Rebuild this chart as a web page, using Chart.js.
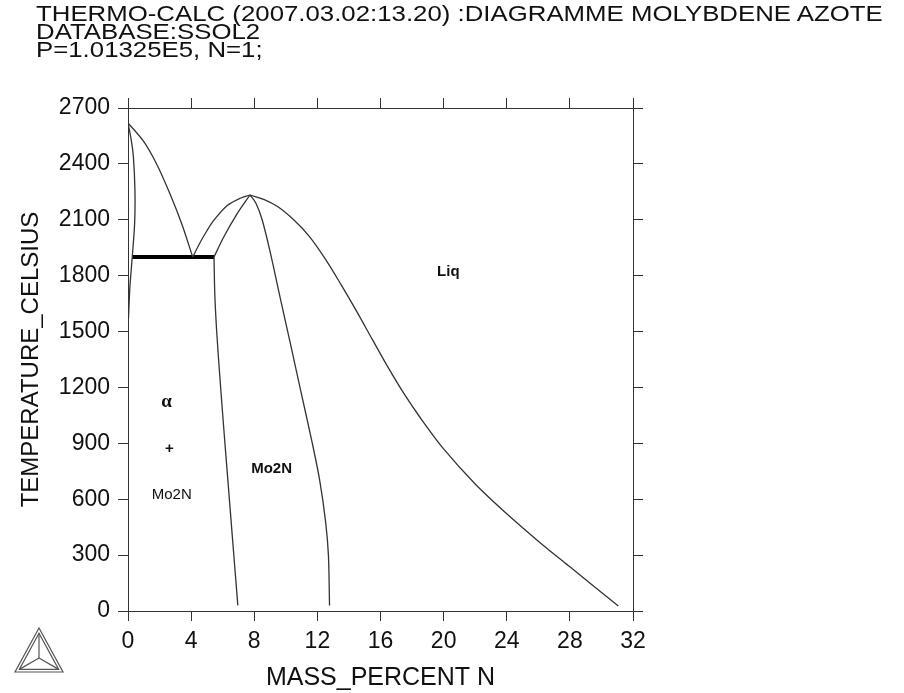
<!DOCTYPE html>
<html>
<head>
<meta charset="utf-8">
<script src="https://cdn.jsdelivr.net/npm/chart.js@4.4.0/dist/chart.umd.min.js"></script>
<style>
html, body { margin: 0; padding: 0; background: #fff; }
#wrap { position: relative; width: 904px; height: 693px; }
#head {
    position: absolute; left: 36px; top: 5px;
    font-family: "Liberation Sans", Arial, sans-serif;
    font-size: 25.8px; line-height: 20.3px; color: #111;
    transform: scaleY(0.86); transform-origin: 0 0; white-space: nowrap;
}
</style>
</head>
<body>
<div id="wrap">
<canvas id="myChart" width="904" height="693"></canvas>
<div id="head">THERMO-CALC (2007.03.02:13.20) :DIAGRAMME MOLYBDENE AZOTE<br>DATABASE:SSOL2<br>P=1.01325E5, N=1;</div>
</div>
<script>
// axis ranges / ticks
var xTicks = [0, 4, 8, 12, 16, 20, 24, 28, 32];
var tTicks = [0, 300, 600, 900, 1200, 1500, 1800, 2100, 2400, 2700];

// phase boundaries (mass % N, temperature C)
var alphaSolvusX = [0, 0.2, 0.34, 0.44, 0.42, 0.27, 0.12, 0.03];
var alphaSolvusT = [2620, 2530, 2440, 2260, 2080, 1900, 1740, 1570];

var liqLeftX = [0, 0.97, 1.82, 2.67, 3.41, 4.1];
var liqLeftT = [2620, 2523, 2398, 2237, 2077, 1900];

var liqMidX = [4.1, 4.57, 5.0, 5.42, 6.27, 7.0, 7.73];
var liqMidT = [1900, 1978, 2041, 2095, 2175, 2211, 2233];

var mo2nUpperX = [5.45, 6.05, 6.9, 7.73];
var mo2nUpperT = [1900, 2005, 2130, 2233];

var mo2nLeftX = [5.45, 5.5, 5.62, 5.8, 6.05, 6.33, 6.63, 6.96];
var mo2nLeftT = [1900, 1700, 1500, 1280, 1000, 700, 380, 30];

var mo2nRightX = [7.73, 8.1, 8.5, 9.0, 9.62, 10.33, 10.95, 11.68, 12.15, 12.52, 12.7, 12.77];
var mo2nRightT = [2233, 2190, 2100, 1930, 1690, 1420, 1180, 900, 700, 480, 300, 30];

var liqRightX = [7.73, 8.6, 9.5, 10.5, 11.5, 12.5, 13.5, 14.5, 15.5, 16.5, 17.5, 18.5, 20, 22, 24, 26, 28, 31.07];
var liqRightT = [2233, 2210, 2170, 2100, 2010, 1890, 1752, 1607, 1455, 1305, 1165, 1040, 870, 682, 522, 375, 237, 27];

var eutecticX = [0.27, 5.45];
var eutecticT = [1900, 1900];

// region labels
var labelText = ['Liq', '\u03b1', '+', 'Mo2N', 'Mo2N'];
var labelX = [20.3, 2.45, 2.62, 2.77, 9.1];
var labelT = [1820, 1123, 873, 623, 761];

function pts(xs, ts) {
    return xs.map(function (x, i) { return { x: x, y: ts[i] }; });
}

function curve(xs, ts, width) {
    return {
        data: pts(xs, ts),
        showLine: true,
        borderColor: width > 2 ? '#000' : '#333',
        borderWidth: width,
        pointRadius: 0,
        tension: width > 2 ? 0 : 0.3,
        fill: false
    };
}

var labelFonts = [
    'bold 15px "Liberation Sans", Arial',
    'bold 19px "Liberation Serif", "Times New Roman", serif',
    'bold 15px "Liberation Sans", Arial',
    '15px "Liberation Sans", Arial',
    'bold 15px "Liberation Sans", Arial'
];

var regionLabels = {
    id: 'regionLabels',
    afterDatasetsDraw: function (chart) {
        var ctx = chart.ctx;
        var xs = chart.scales.x, ys = chart.scales.y;
        ctx.save();
        ctx.fillStyle = '#111';
        ctx.textAlign = 'center';
        ctx.textBaseline = 'middle';
        labelText.forEach(function (t, i) {
            ctx.font = labelFonts[i];
            ctx.fillText(t, xs.getPixelForValue(labelX[i]), ys.getPixelForValue(labelT[i]));
        });
        ctx.restore();
    }
};

// Thermo-Calc triangle logo, bottom left corner
var logo = {
    id: 'logo',
    afterDraw: function (chart) {
        var ctx = chart.ctx;
        var ax = 39, ay = 628, bx = 15, by = 672, cx = 63, cy = 672;
        var ox = 39, oy = 658;
        ctx.save();
        ctx.strokeStyle = '#555';
        ctx.lineWidth = 1.2;
        ctx.beginPath();
        ctx.moveTo(ax, ay); ctx.lineTo(bx, by); ctx.lineTo(cx, cy); ctx.closePath();
        ctx.stroke();
        var s = 0.82;
        var gx = (ax + bx + cx) / 3, gy = (ay + by + cy) / 3;
        var ia = [gx + (ax - gx) * s, gy + (ay - gy) * s];
        var ib = [gx + (bx - gx) * s, gy + (by - gy) * s];
        var ic = [gx + (cx - gx) * s, gy + (cy - gy) * s];
        ctx.beginPath();
        ctx.moveTo(ia[0], ia[1]); ctx.lineTo(ib[0], ib[1]); ctx.lineTo(ic[0], ic[1]); ctx.closePath();
        ctx.stroke();
        [ia, ib, ic].forEach(function (p) {
            ctx.beginPath();
            ctx.moveTo(p[0], p[1]);
            ctx.lineTo(ox, oy);
            ctx.stroke();
        });
        ctx.restore();
    }
};

var tickFont = { family: '"Liberation Sans", Arial, sans-serif', size: 23 };
var axisColor = '#333';

function gridOpts() {
    return { drawOnChartArea: false, drawTicks: true, tickLength: 10, color: axisColor, lineWidth: 1 };
}

function plain(v) { return String(v); }

var ctx = document.getElementById('myChart').getContext('2d');
var chart = new Chart(ctx, {
    type: 'scatter',
    data: {
        datasets: [
            curve(alphaSolvusX, alphaSolvusT, 1.3),
            curve(liqLeftX, liqLeftT, 1.3),
            curve(liqMidX, liqMidT, 1.3),
            curve(mo2nUpperX, mo2nUpperT, 1.3),
            curve(mo2nLeftX, mo2nLeftT, 1.3),
            curve(mo2nRightX, mo2nRightT, 1.3),
            curve(liqRightX, liqRightT, 1.3),
            curve(eutecticX, eutecticT, 4)
        ]
    },
    options: {
        responsive: false,
        animation: false,
        devicePixelRatio: 1,
        layout: { padding: 0 },
        plugins: {
            legend: { display: false },
            tooltip: { enabled: false }
        },
        scales: {
            x: {
                type: 'linear',
                position: 'bottom',
                min: xTicks[0],
                max: xTicks[xTicks.length - 1],
                afterBuildTicks: function (s) { s.ticks = xTicks.map(function (v) { return { value: v }; }); },
                ticks: { font: tickFont, color: '#111', padding: 7, maxRotation: 0, callback: plain },
                grid: gridOpts(),
                border: { display: true, color: axisColor, width: 1 },
                title: {
                    display: true,
                    text: 'MASS_PERCENT N',
                    font: { family: '"Liberation Sans", Arial, sans-serif', size: 25 },
                    color: '#111',
                    padding: { top: 0, bottom: 0 }
                },
                afterFit: function (s) { s.height = 82; }
            },
            x2: {
                type: 'linear',
                position: 'top',
                min: xTicks[0],
                max: xTicks[xTicks.length - 1],
                afterBuildTicks: function (s) { s.ticks = xTicks.map(function (v) { return { value: v }; }); },
                ticks: { display: false },
                grid: gridOpts(),
                border: { display: true, color: axisColor, width: 1 },
                afterFit: function (s) { s.height = 108; }
            },
            y: {
                type: 'linear',
                position: 'left',
                min: tTicks[0],
                max: tTicks[tTicks.length - 1],
                afterBuildTicks: function (s) { s.ticks = tTicks.map(function (v) { return { value: v }; }); },
                ticks: { font: tickFont, color: '#111', padding: 8, callback: plain },
                grid: gridOpts(),
                border: { display: true, color: axisColor, width: 1 },
                title: {
                    display: true,
                    text: 'TEMPERATURE_CELSIUS',
                    font: { family: '"Liberation Sans", Arial, sans-serif', size: 24 },
                    color: '#111',
                    padding: { top: 17, bottom: 0 }
                },
                afterFit: function (s) { s.width = 128; }
            },
            y2: {
                type: 'linear',
                position: 'right',
                min: tTicks[0],
                max: tTicks[tTicks.length - 1],
                afterBuildTicks: function (s) { s.ticks = tTicks.map(function (v) { return { value: v }; }); },
                ticks: { display: false },
                grid: gridOpts(),
                border: { display: true, color: axisColor, width: 1 },
                afterFit: function (s) { s.width = 271; }
            }
        }
    },
    plugins: [regionLabels, logo]
});
</script>
</body>
</html>
